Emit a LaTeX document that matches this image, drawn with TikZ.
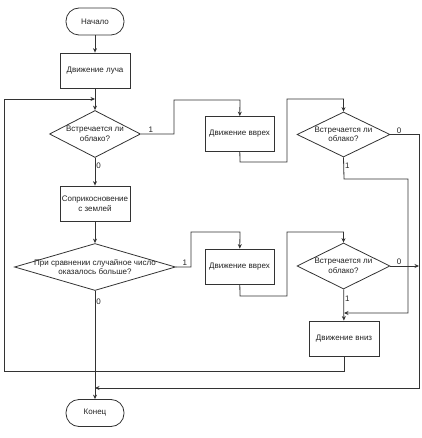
\documentclass[tikz,border=0pt]{standalone}
\usepackage{fontspec}
\setmainfont{Liberation Sans}
\usetikzlibrary{arrows.meta, shapes.geometric, positioning}
\definecolor{fcLine}{HTML}{333333}
\definecolor{fcText}{HTML}{222222}
\tikzset{
  % thin lines and small filled tips, as in the original scheme
  every picture/.append style = {line width=0.8pt, >={Stealth[length=4.5pt, width=4pt]}},
  flow/.style      = {->, fcLine},
  termbox/.style   = {draw=fcLine, rounded corners=13pt, minimum width=58pt, minimum height=27pt, inner sep=0pt},
  procbox/.style   = {draw=fcLine, minimum width=70pt, minimum height=35pt, inner sep=0pt},
  decbox/.style    = {draw=fcLine, diamond, inner sep=0pt},
  txt/.style       = {font=\fontsize{8}{9.5}\selectfont, text=fcText, align=center},
  brlbl/.style     = {font=\fontsize{8}{9}\selectfont, text=fcText, inner sep=1pt},
}

\begin{document}
\begin{tikzpicture}[x=1pt, y=-1pt]
  \useasboundingbox (0,0) rectangle (421,438);
  % main column
  \node[termbox, txt] (start) at (95,21.5) {Начало};
  \node[procbox, txt] (ray) at (95,70.5) {Движение луча};
  \node[decbox, minimum width=91pt, minimum height=47pt] (cloudA) at (95,134) {};
  \node[txt] (cloudAt) at (cloudA) {Встречается ли\\облако?};
  \node[procbox, txt] (ground) at (95,203.5) {Соприкосновение\\с землей};
  \node[decbox, minimum width=161pt, minimum height=47pt] (rand) at (95,267) {};
  \node[txt] (randt) at (rand) {При сравнении случайное число\\оказалось больше?};
  \node[termbox, txt] (stop) at (95,413) {Конец};
  % right part
  \node[procbox, txt, minimum width=69pt] (upA) at (239.5,134) {Движение вврех};
  \node[decbox, minimum width=93pt, minimum height=45pt] (cloudB) at (343.5,134.5) {};
  \node[txt] (cloudBt) at (cloudB) {Встречается ли\\облако?};
  \node[procbox, txt, minimum width=69pt] (upB) at (239.5,266.5) {Движение вврех};
  \node[decbox, minimum width=93pt, minimum height=46pt] (cloudC) at (343.5,266) {};
  \node[txt] (cloudCt) at (cloudC) {Встречается ли\\облако?};
  \node[procbox, txt] (down) at (344,338.5) {Движение вниз};
  % merge points
  \coordinate (loopIn) at (95,99);
  \coordinate (endIn) at (95,388);
  \coordinate (downIn) at (344,313);
  \coordinate (sideIn) at (419,266);
  % connectors
  \draw[flow] (start) -- (ray);
  \draw[flow] (ray) -- (cloudA);
  \draw[flow] (cloudA) -- node[brlbl, pos=0.3, right] {0} (ground);
  \draw[flow] (ground) -- (rand);
  \draw[flow] (rand) -- node[brlbl, pos=0.1, right] {0} (stop);
  \draw[flow] (cloudA.east) -- node[brlbl, above, pos=0.3] {1} ++(33,0) |- (240,100) -- (upA);
  \draw[flow] (upA) -- (240,162) -| (287,99) -| (cloudB);
  \draw[flow] (cloudB.east) -- node[brlbl, above, pos=0.3] {0} (419,134.5) |- (endIn);
  \draw[flow] (cloudB.south) -- node[brlbl, right, pos=0.4] {1} (344,179) -| (408,313) -- (downIn);
  \draw[flow] (rand.east) -- node[brlbl, above, pos=0.6] {1} ++(15,0) |- (240,232) -- (upB);
  \draw[flow] (upB) -- (240,296) -| (287,232) -| (cloudC);
  \draw[flow] (cloudC.east) -- node[brlbl, above, pos=0.3] {0} (sideIn);
  \draw[flow] (cloudC) -- node[brlbl, right, pos=0.3] {1} (down);
  \draw[flow] (down) -- (344,371) -| (4,99) -- (loopIn);
\end{tikzpicture}
\end{document}
